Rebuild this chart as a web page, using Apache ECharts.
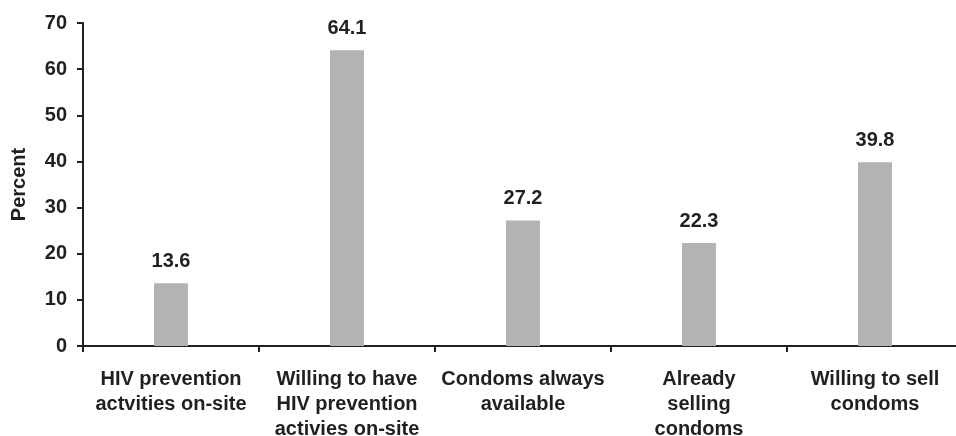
<!DOCTYPE html>
<html>
<head>
<meta charset="utf-8">
<script src="https://cdn.jsdelivr.net/npm/echarts@6/dist/echarts.min.js"></script>
<style>
  html, body { margin: 0; padding: 0; background: #fff; }
  #chart { width: 956px; height: 436px; }
</style>
</head>
<body>
<div id="chart"></div>
<script>
// Survey categories and the share (percent) in each
const categories = [
  'HIV prevention\nactvities on-site',
  'Willing to have\nHIV prevention\nactivies on-site',
  'Condoms always\navailable',
  'Already\nselling\ncondoms',
  'Willing to sell\ncondoms'
];
const percentValues = [13.6, 64.1, 27.2, 22.3, 39.8];
const yTicks = { min: 0, max: 70, interval: 10 };

const ink = '#231f20';
const font = 'Liberation Sans, Arial, sans-serif';

const chart = echarts.init(document.getElementById('chart'));
chart.setOption({
  animation: false,
  // the category axis runs slightly past the right edge of the canvas
  grid: { left: 83, top: 23, bottom: 90, width: 880, outerBoundsMode: 'none', containLabel: false },
  xAxis: {
    type: 'category',
    data: categories,
    axisLine: { lineStyle: { color: ink, width: 2 } },
    axisTick: { show: true, alignWithLabel: false, length: 6, lineStyle: { color: ink, width: 2 } },
    axisLabel: {
      interval: 0, color: ink, fontFamily: font, fontWeight: 'bold',
      fontSize: 20, lineHeight: 25, margin: 21
    }
  },
  yAxis: {
    type: 'value',
    min: yTicks.min, max: yTicks.max, interval: yTicks.interval,
    name: 'Percent',
    nameLocation: 'middle',
    nameGap: 54,
    nameTextStyle: { color: ink, fontFamily: font, fontWeight: 'bold', fontSize: 20 },
    splitLine: { show: false },
    axisLine: { show: true, lineStyle: { color: ink, width: 2 } },
    axisTick: { show: true, length: 6, lineStyle: { color: ink, width: 2 } },
    axisLabel: { color: ink, fontFamily: font, fontWeight: 'bold', fontSize: 20, margin: 16 }
  },
  series: [{
    type: 'bar',
    data: percentValues,
    barWidth: 34,
    itemStyle: { color: '#b3b3b3' },
    label: {
      show: true, position: 'top', distance: 12,
      color: ink, fontFamily: font, fontWeight: 'bold', fontSize: 20,
      formatter: p => p.value.toFixed(1)
    }
  }]
});
</script>
</body>
</html>
